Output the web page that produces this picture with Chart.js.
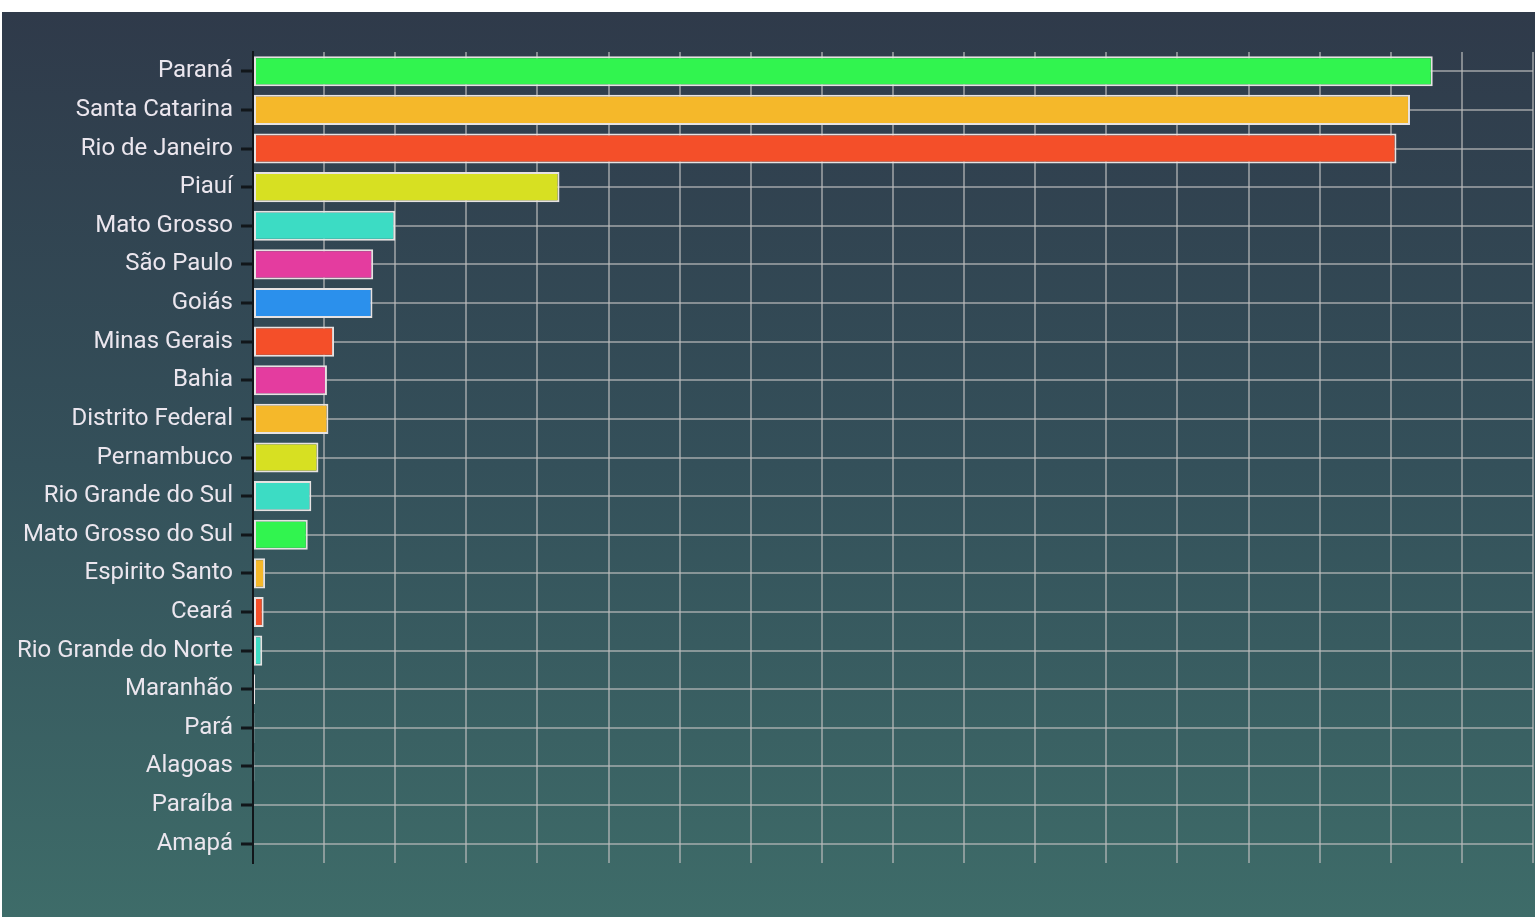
<!DOCTYPE html>
<html>
<head>
<meta charset="utf-8">
<script src="https://cdn.jsdelivr.net/npm/chart.js@4/dist/chart.umd.min.js"></script>
<style>
    html, body { margin: 0; padding: 0; background: #ffffff; }
    #wrap {
        position: absolute;
        left: 2px;
        top: 12px;
        width: 1533px;
        height: 905px;
        background: linear-gradient(180deg, #2f3a4a 0%, #34505a 50%, #3e6c69 100%);
    }
</style>
</head>
<body>
<div id="wrap"><canvas id="estadosChart"></canvas></div>
<script>
// Dados do gráfico
const estados = ['Paraná', 'Santa Catarina', 'Rio de Janeiro', 'Piauí', 'Mato Grosso', 'São Paulo', 'Goiás',
    'Minas Gerais', 'Bahia', 'Distrito Federal', 'Pernambuco', 'Rio Grande do Sul', 'Mato Grosso do Sul',
    'Espirito Santo', 'Ceará', 'Rio Grande do Norte', 'Maranhão', 'Pará', 'Alagoas', 'Paraíba', 'Amapá'];
const valores = [16.59, 16.27, 16.08, 4.31, 2.0, 1.69, 1.68, 1.14, 1.04, 1.06, 0.92, 0.82, 0.77,
    0.17, 0.15, 0.13, 0.03, 0.02, 0.02, 0, 0];
const cores = ['#31f44f', '#f5b82a', '#f44f29', '#d7e022', '#3cdcc4', '#e43c9f', '#2b90ec',
    '#f44f29', '#e43c9f', '#f5b82a', '#d7e022', '#3cdcc4', '#31f44f',
    '#f5b82a', '#f44f29', '#3cdcc4', '#7fd3a8', '#c9b86a', '#c99a8a', '#3cdcc4', '#31f44f'];

Chart.defaults.font.family = 'Roboto';

const ctx = document.getElementById('estadosChart');

new Chart(ctx, {
    type: 'bar',
    data: {
        labels: estados,
        datasets: [{
            data: valores,
            backgroundColor: cores,
            borderColor: '#e6e2e2',
            borderWidth: 2,
            borderSkipped: false,
            barPercentage: 0.78,
            categoryPercentage: 1
        }]
    },
    options: {
        indexAxis: 'y',
        responsive: true,
        maintainAspectRatio: false,
        animation: false,
        layout: {
            padding: { top: 40, right: 2, bottom: 54, left: 0 }
        },
        plugins: {
            legend: { display: false },
            tooltip: { enabled: false }
        },
        scales: {
            x: {
                min: 0,
                max: 18,
                ticks: { display: false, stepSize: 1 },
                grid: {
                    color: 'rgba(190, 190, 190, 0.6)',
                    lineWidth: 2,
                    drawTicks: false
                },
                border: { display: false }
            },
            y: {
                afterFit: function(scale) {
                    scale.width = 251;
                },
                ticks: {
                    color: '#ebe6ee',
                    padding: 8,
                    font: { size: 24 }
                },
                grid: {
                    offset: false,
                    color: 'rgba(190, 190, 190, 0.6)',
                    lineWidth: 2,
                    tickColor: '#11161a',
                    tickWidth: 3,
                    tickLength: 12
                },
                border: { color: '#11161a', width: 2 }
            }
        }
    }
});
</script>
</body>
</html>
